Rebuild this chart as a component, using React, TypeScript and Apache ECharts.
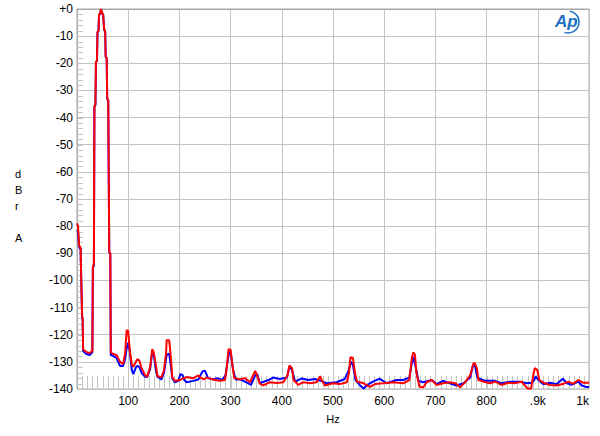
import React, { useEffect, useRef } from "react";
import * as echarts from "echarts";

const xTicks = [0, 100, 200, 300, 400, 500, 600, 700, 800, 900, 1000];
const xTickLabels = ["", "100", "200", "300", "400", "500", "600", "700", "800", ".9k", "1k"];

const redHz = [0,2,4,7,8,10,11,12,16,20,25,28,30,31,33,34,36,37,39,40,42,43,45,47,48,49,51,53,55,56,58,59,61,63,65,66,70,77,84,90,94,97,100,103,107,110,115,118,122,126,133,137,143,147,150,154,157,165,170,174,175,180,183,186,191,201,206,214,227,237,240,247,253,266,279,289,292,296,300,303,307,318,328,338,344,348,352,357,364,377,390,403,411,415,420,423,432,442,455,468,475,478,484,500,513,527,531,534,539,543,547,559,572,582,598,618,637,649,654,657,660,663,669,676,683,693,702,715,728,740,748,758,768,774,777,781,784,794,807,817,829,842,855,868,880,887,891,894,899,903,914,924,937,950,960,969,979,989,1000];
const redDb = [-79,-80,-87,-88,-97,-113,-114,-125.5,-126,-126.5,-126.8,-126.2,-126,-95,-94,-36,-35,-19.5,-19,-8.5,-8,-2,-1.8,0,0,-1.5,-1.8,-7.5,-8,-17.5,-18,-33,-33.5,-89.5,-90,-126.5,-127,-127.5,-130,-130.8,-126.8,-118.3,-118.7,-125.6,-131,-131.8,-130,-129,-129.6,-132.3,-134.9,-135.5,-131.8,-125.3,-126.6,-131,-135.2,-135.7,-133,-126.8,-122,-122,-127.5,-135.6,-137,-136.7,-136.2,-135.6,-136,-135,-135.5,-136.5,-135.8,-136.5,-137,-136.7,-133,-125.3,-125.5,-130.5,-136,-136.4,-136,-137.5,-135,-133.3,-135.2,-138,-138.7,-137.5,-137.8,-137.5,-135,-131.3,-132.3,-136.7,-138.5,-137.5,-137.9,-137.5,-135.3,-136.7,-138.7,-137.9,-138.2,-137.5,-134.3,-128.3,-128.6,-134.3,-137.3,-137.8,-139.2,-138.2,-137.9,-137.5,-137.9,-136.7,-128.6,-126.5,-127.3,-134.3,-139.2,-139.4,-137.5,-136.7,-138.5,-137.9,-137.5,-138,-139.4,-137.5,-134.9,-130.7,-130.5,-132.3,-136.7,-137.3,-137.9,-137.3,-138.5,-137.7,-137.9,-137.3,-139.8,-139.8,-135,-132.3,-133,-136.7,-137.9,-138.5,-138.7,-138.1,-137.3,-138.1,-136.7,-137.7,-137.7];

const blueHz = [0,2,4,7,8,10,11,12,16,20,25,28,30,31,33,34,36,37,39,40,42,43,45,47,48,49,51,53,55,56,58,59,61,63,65,66,70,77,84,90,94,97,100,103,107,110,115,118,122,126,133,137,143,147,150,154,157,165,170,175,180,183,186,191,198,202,206,210,214,227,237,245,250,256,266,275,283,290,294,297,300,305,310,320,330,340,348,352,357,374,383,396,410,415,420,426,439,452,465,476,488,507,523,531,535,539,544,552,560,567,578,591,605,624,637,649,654,657,661,667,676,693,702,715,728,741,755,768,773,777,782,797,817,829,846,865,878,888,893,896,901,911,924,937,949,957,966,979,986,995,1000];
const blueDb = [-81.5,-82,-87.5,-88.5,-97.5,-113.5,-114.5,-126,-126.8,-127.2,-127.5,-126.8,-126.5,-95.5,-94.5,-36,-35.5,-19.5,-19.2,-8.7,-8.2,-2.2,-2,-0.3,-0.3,-1.7,-2,-7.7,-8.2,-17.7,-18.2,-33.2,-33.7,-89.7,-90.2,-127.5,-127.8,-128.5,-131.5,-131.5,-129,-125,-123,-126,-133,-134.5,-132,-131.5,-132,-134,-135.5,-135.6,-132.5,-126,-127.5,-133,-135.5,-136.5,-134,-127.5,-127,-131,-136,-137.5,-137,-134.5,-134.8,-136.8,-137.5,-137,-136.5,-133.5,-133.3,-136,-136.5,-136,-136.7,-135,-130,-126.5,-126.5,-133,-136.5,-136.5,-137.5,-138.5,-135,-134.5,-137.9,-136.7,-135.8,-136.3,-135.8,-131.6,-133,-137.3,-136.1,-136.7,-136.3,-137,-137.9,-137.5,-136.3,-133,-130,-131.2,-136.7,-138.5,-139.8,-138.5,-137.3,-136.2,-137.9,-136.7,-136.7,-135.8,-130.5,-128.1,-131.5,-137,-137.5,-136.7,-138.2,-137,-137.9,-138.7,-137.9,-135.8,-131.6,-131.2,-135.8,-137,-137,-137.9,-137.3,-137.3,-137.9,-137.7,-136.7,-135.3,-136.7,-138.2,-137.7,-138.2,-136.2,-137.9,-138.5,-137.3,-138.7,-139.3,-139.3];

// minor tick positions (axis decoration): every 10 Hz and every 2 dB
const xMinorTicks = Array.from({ length: 99 }, (_, i) => (i + 1) * 10);
const yMinorTicks = Array.from({ length: 69 }, (_, i) => -138 + i * 2);

const FONT = "'Liberation Sans', Arial, sans-serif";
const GRID = "#c4c4c4";

export default function App() {
  const ref = useRef<HTMLDivElement>(null);
  useEffect(() => {
    if (!ref.current) return;
    const chart = echarts.init(ref.current, null, { renderer: "svg" });
    const pair = (xs: number[], ys: number[]) => xs.map((x, i) => [x, ys[i]]);
    chart.setOption({
      animation: false,
      backgroundColor: "#ffffff",
      grid: {
        left: 77,
        right: 11,
        top: 9,
        bottom: 47,
        show: true,
        borderColor: "#a8a8a8",
        borderWidth: 1,
      },
      xAxis: {
        type: "value",
        min: 0,
        max: 1000,
        interval: 100,
        name: "Hz",
        nameLocation: "middle",
        nameGap: 24,
        nameTextStyle: { fontFamily: FONT, fontSize: 11, color: "#000" },
        axisLine: { show: true, lineStyle: { color: "#a8a8a8" } },
        axisTick: { show: false },
        axisLabel: {
          margin: 6,
          fontFamily: FONT,
          fontSize: 12,
          color: "#000",
          alignMaxLabel: "right",
          formatter: (v: number) => {
            const i = xTicks.indexOf(v);
            return i >= 0 ? xTickLabels[i] : "";
          },
        },
        splitLine: { show: true, lineStyle: { color: GRID, width: 1 } },
      },
      yAxis: {
        type: "value",
        min: -140,
        max: 0,
        interval: 10,
        axisLine: { show: true, lineStyle: { color: "#a8a8a8" } },
        axisTick: { show: false },
        axisLabel: {
          margin: 4,
          fontFamily: FONT,
          fontSize: 12,
          color: "#000",
          formatter: (v: number) => (v === 0 ? "+0" : String(v)),
        },
        splitLine: { show: true, lineStyle: { color: GRID, width: 1 } },
      },
      graphic: [
        {
          type: "text",
          left: 15,
          top: 166,
          style: {
            text: "d\nB\nr\n\nA",
            fontFamily: FONT,
            fontSize: 11,
            lineHeight: 16,
            fill: "#000",
            align: "center",
          },
        },
        {
          type: "text",
          x: 555,
          y: 13,
          style: {
            text: "Ap",
            fontFamily: FONT,
            fontSize: 17,
            fontStyle: "italic",
            fontWeight: "bold",
            fill: "#1e6fc0",
          },
        },
        {
          type: "arc",
          shape: { cx: 568, cy: 22, r: 11, startAngle: -1.4, endAngle: 1.9 },
          style: { stroke: "#1e6fc0", lineWidth: 1.5, fill: "none" },
        },
      ],
      series: [
        {
          type: "custom",
          silent: true,
          z: 1,
          data: xMinorTicks.map((f) => [f]),
          renderItem: (_p: any, api: any) => {
            const pt = api.coord([api.value(0), -140]);
            const x = Math.round(pt[0]) + 0.5;
            return {
              type: "line",
              shape: { x1: x, y1: pt[1], x2: x, y2: pt[1] - 13 },
              style: { stroke: GRID, lineWidth: 1 },
            };
          },
        },
        {
          type: "custom",
          silent: true,
          z: 1,
          data: yMinorTicks.map((d) => [0, d]),
          renderItem: (_p: any, api: any) => {
            const pt = api.coord([0, api.value(1)]);
            const y = Math.round(pt[1]) + 0.5;
            return {
              type: "line",
              shape: { x1: pt[0], y1: y, x2: pt[0] + 6, y2: y },
              style: { stroke: GRID, lineWidth: 1 },
            };
          },
        },
        {
          type: "line",
          data: pair(blueHz, blueDb),
          showSymbol: false,
          lineStyle: { color: "#0000ff", width: 2 },
          z: 2,
        },
        {
          type: "line",
          data: pair(redHz, redDb),
          showSymbol: false,
          lineStyle: { color: "#ff0000", width: 2 },
          z: 3,
        },
      ],
    });
    return () => chart.dispose();
  }, []);
  return (
    <div
      ref={ref}
      style={{ position: "absolute", left: 0, top: 0, width: 600, height: 436 }}
    />
  );
}
